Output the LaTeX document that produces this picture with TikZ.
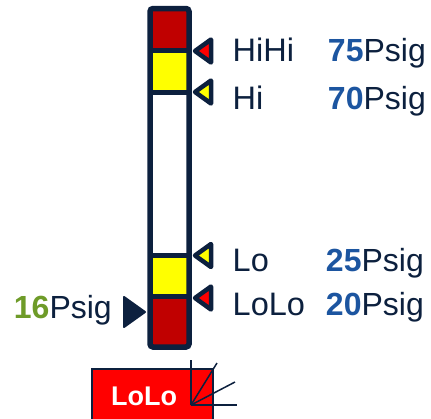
\documentclass[tikz,border=0pt]{standalone}
\usepackage{fontspec}
\setmainfont{Liberation Sans}
\usetikzlibrary{positioning}
\definecolor{gaugeNavy}{RGB}{12,32,62}
\definecolor{alarmRed}{RGB}{192,0,0}
\definecolor{alarmYellow}{RGB}{255,255,0}
\definecolor{brightRed}{RGB}{255,0,0}
\definecolor{setBlue}{RGB}{28,85,160}
\definecolor{pvGreen}{RGB}{110,155,40}

\begin{document}
\begin{tikzpicture}[x=1pt,y=-1pt,
    lbl/.style={font=\fontsize{32.5}{33}\selectfont, text=gaugeNavy,
      inner sep=0pt, anchor=base west},
    setpt/.style={font=\fontsize{32}{33}\selectfont, text=gaugeNavy,
      inner sep=0pt, anchor=base east},
    marker/.style={draw=gaugeNavy, line width=4.5pt, line join=round},
    divider/.style={draw=gaugeNavy, line width=5.5pt}
  ]
    \useasboundingbox (0,0) rectangle (431,418);

    % level bar
    \fill[alarmRed] (150,8.5) rectangle (189,50.5);
    \fill[alarmYellow] (150,50.5) rectangle (189,92.5);
    \fill[alarmYellow] (150,255.5) rectangle (189,296.5);
    \fill[alarmRed] (150,296.5) rectangle (189,347);
    \draw[divider] (150,50.5) -- (189,50.5);
    \draw[divider] (150,92.5) -- (189,92.5);
    \draw[divider] (150,255.5) -- (189,255.5);
    \draw[divider] (150,296.5) -- (189,296.5);
    \draw[divider, rounded corners=3pt] (150,8.5) rectangle (189,347);

    % alarm markers
    \draw[marker, fill=brightRed] (195,51) -- (211,39.5) -- (211,62.5) -- cycle;
    \draw[marker, fill=alarmYellow] (195,92) -- (211,80.5) -- (211,103.5) -- cycle;
    \draw[marker, fill=alarmYellow] (195,255.5) -- (211,244) -- (211,267) -- cycle;
    \draw[marker, fill=brightRed] (195,298) -- (211,286.5) -- (211,309.5) -- cycle;
    \draw[draw=gaugeNavy, fill=gaugeNavy, line width=2pt, line join=round]
      (124,297) -- (145,312) -- (124,327) -- cycle;

    % alarm names and set points
    \node[lbl] (hihi) at (232.5,61.5) {HiHi};
    \node[lbl] (hi) at (232.5,109) {Hi};
    \node[lbl] (lo) at (232.5,271.5) {Lo};
    \node[lbl] (lolo) at (232.5,315) {LoLo};
    \node[setpt] (hihiVal) at (426,61.5) {\textbf{\textcolor{setBlue}{75}}Psig};
    \node[setpt] (hiVal) at (426,109) {\textbf{\textcolor{setBlue}{70}}Psig};
    \node[setpt] (loVal) at (424,271.5) {\textbf{\textcolor{setBlue}{25}}Psig};
    \node[setpt] (loloVal) at (424,315) {\textbf{\textcolor{setBlue}{20}}Psig};
    \node[setpt] (pv) at (112,318) {\textbf{\textcolor{pvGreen}{16}}Psig};

    % active alarm
    \draw[gaugeNavy, fill=brightRed, line width=1.5pt] (92,369) rectangle (213,430);
    \node[font=\fontsize{27}{27}\selectfont\bfseries, text=white, inner sep=0pt,
      anchor=base] (active) at (144,405) {LoLo};
    \coordinate (burst) at (191,405);
    \draw[gaugeNavy, line width=1.5pt] (burst) -- (191,360);
    \draw[gaugeNavy, line width=1.5pt] (burst) -- (217,363);
    \draw[gaugeNavy, line width=1.5pt] (burst) -- (235,382);
    \draw[gaugeNavy, line width=1.5pt] (burst) -- (237,405);
\end{tikzpicture}
\end{document}
